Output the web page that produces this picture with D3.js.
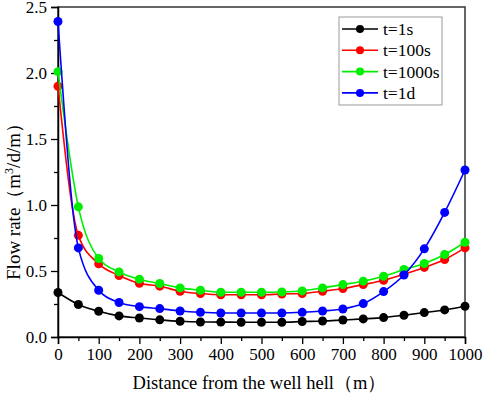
<!DOCTYPE html>
<html>
<head>
<meta charset="utf-8">
<script src="https://cdn.jsdelivr.net/npm/d3@7"></script>
<style>
  body { margin: 0; background: #fff; }
  svg text { font-family: "Liberation Serif", "Times New Roman", serif; }
</style>
</head>
<body>
<div class="chart"></div>
<script>
// distance from the well (m)
const distance = [0, 50, 100, 150, 200, 250, 300, 350, 400, 450, 500,
                  550, 600, 650, 700, 750, 800, 850, 900, 950, 1000];

const flow1s = [0.337, 0.246, 0.195, 0.160, 0.144, 0.130, 0.119, 0.114, 0.113, 0.112, 0.112,
                0.112, 0.117, 0.121, 0.129, 0.137, 0.147, 0.165, 0.185, 0.205, 0.233];
const flow100s = [1.90, 0.77, 0.554, 0.466, 0.407, 0.385, 0.347, 0.329, 0.320, 0.320, 0.320,
                  0.326, 0.329, 0.347, 0.367, 0.397, 0.430, 0.476, 0.527, 0.587, 0.675];
const flow1000s = [2.01, 0.986, 0.595, 0.493, 0.438, 0.405, 0.372, 0.354, 0.339, 0.339, 0.339,
                   0.341, 0.349, 0.372, 0.397, 0.423, 0.460, 0.511, 0.557, 0.625, 0.718];
const flow1d = [2.39, 0.675, 0.354, 0.261, 0.230, 0.215, 0.197, 0.187, 0.182, 0.182, 0.182,
                0.182, 0.187, 0.197, 0.212, 0.253, 0.344, 0.470, 0.668, 0.944, 1.265];

const seriesNames = ["t=1s", "t=100s", "t=1000s", "t=1d"];
const seriesColors = ["#000000", "#ff0000", "#00ee00", "#0000ff"];
const seriesValues = [flow1s, flow100s, flow1000s, flow1d];

const xTicks = [0, 100, 200, 300, 400, 500, 600, 700, 800, 900, 1000];
const yTicks = [0.0, 0.5, 1.0, 1.5, 2.0, 2.5];

let margin = {top: 7, right: 19, bottom: 56, left: 58},
    width = 484 - margin.left - margin.right,
    height = 393 - margin.top - margin.bottom;

const svg = d3.select(".chart")
    .append("svg")
        .attr("width", 484)
        .attr("height", 393)
    .append("g")
        .attr("transform", "translate(" + margin.left + "," + margin.top + ")");

const x = d3.scaleLinear().domain([0, 1000]).range([0, width]);
const y = d3.scaleLinear().domain([0, 2.5]).range([height, 0]);

// frame (top and right)
svg.append("rect")
    .attr("x", 0).attr("y", 0)
    .attr("width", width).attr("height", height)
    .attr("fill", "none")
    .attr("stroke", "#333")
    .attr("stroke-width", 1.5);

// minor ticks
svg.append("g")
    .attr("transform", "translate(0," + height + ")")
    .call(d3.axisBottom(x).tickValues(d3.range(50, 1000, 100)).tickSize(4).tickFormat(""))
    .call(g => g.select(".domain").remove());
svg.append("g")
    .call(d3.axisLeft(y).tickValues([0.25, 0.75, 1.25, 1.75, 2.25]).tickSize(4).tickFormat(""))
    .call(g => g.select(".domain").remove());

const xAxis = svg.append("g")
    .attr("transform", "translate(0," + height + ")")
    .call(d3.axisBottom(x).tickValues(xTicks).tickSize(7).tickPadding(4).tickFormat(d3.format("d")));
const yAxis = svg.append("g")
    .call(d3.axisLeft(y).tickValues(yTicks).tickSize(7).tickPadding(4).tickFormat(d3.format(".1f")));

[xAxis, yAxis].forEach(a => {
    a.selectAll("text").attr("font-size", 17).attr("fill", "#000")
        .style("font-family", '"Liberation Serif", serif');
    a.select(".domain").attr("stroke", "#000").attr("stroke-width", 1.5);
});
svg.selectAll(".tick line").attr("stroke", "#000").attr("stroke-width", 1.3);

// axis titles
svg.append("text")
    .attr("x", width / 2 - 2)
    .attr("y", height + 52)
    .attr("text-anchor", "middle")
    .attr("font-size", 18.5)
    .text("Distance from the well hell（m）");

const yt = svg.append("text")
    .attr("transform", "translate(" + (-38) + "," + (height / 2 + 25) + ") rotate(-90)")
    .attr("text-anchor", "middle")
    .attr("font-size", 19);
yt.append("tspan").text("Flow rate（m");
yt.append("tspan").attr("font-size", 12).attr("dy", -7).text("3");
yt.append("tspan").attr("dy", 7).text("/d/m）");

// lines and dots
const line = d3.line()
    .x((d, i) => x(distance[i]))
    .y(d => y(d))
    .curve(d3.curveMonotoneX);

seriesValues.forEach((vals, k) => {
    svg.append("path")
        .datum(vals)
        .attr("fill", "none")
        .attr("stroke", seriesColors[k])
        .attr("stroke-width", 1.6)
        .attr("d", line);
    svg.append("g")
        .selectAll("circle")
        .data(vals)
        .enter()
        .append("circle")
            .attr("cx", (d, i) => x(distance[i]))
            .attr("cy", d => y(d))
            .attr("r", 4.5)
            .attr("fill", seriesColors[k]);
});

// legend
const lg = svg.append("g").attr("transform", "translate(" + (339 - margin.left) + "," + (17 - margin.top) + ")");
lg.append("rect")
    .attr("width", 103).attr("height", 88)
    .attr("fill", "#fff")
    .attr("stroke", "#999")
    .attr("stroke-width", 1);
seriesNames.forEach((name, k) => {
    const yy = 12 + k * 21.3;
    lg.append("line")
        .attr("x1", 3).attr("x2", 39)
        .attr("y1", yy).attr("y2", yy)
        .attr("stroke", seriesColors[k]).attr("stroke-width", 1.6);
    lg.append("circle")
        .attr("cx", 21).attr("cy", yy).attr("r", 4)
        .attr("fill", seriesColors[k]);
    lg.append("text")
        .attr("x", 44).attr("y", yy + 6)
        .attr("font-size", 17.5)
        .text(name);
});
</script>
</body>
</html>
